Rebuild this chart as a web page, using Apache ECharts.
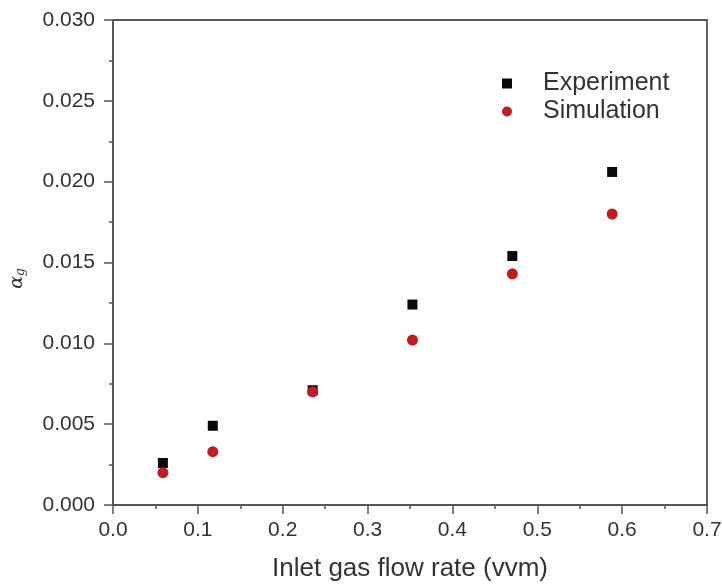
<!DOCTYPE html>
<html>
<head>
<meta charset="utf-8">
<script src="https://cdn.jsdelivr.net/npm/echarts@6/dist/echarts.min.js"></script>
<style>html,body{margin:0;padding:0;background:#fff}#c{width:722px;height:586px}</style>
</head>
<body>
<div id="c"></div>
<script>
var flowRate = [0.0588, 0.1176, 0.2353, 0.3529, 0.4706, 0.5882];
var experiment = [0.0026, 0.0049, 0.0071, 0.0124, 0.0154, 0.0206];
var simulation = [0.0020, 0.0033, 0.0070, 0.0102, 0.0143, 0.0180];
var xTicks = ['0.0','0.1','0.2','0.3','0.4','0.5','0.6','0.7'];

function pairs(xs, ys){ return xs.map(function(x,i){return [x, ys[i]];}); }

var font = 'Liberation Sans, Arial, sans-serif';
var axisCol = '#555';
var textCol = '#333';
var chart = echarts.init(document.getElementById('c'));
chart.setOption({
  animation: false,
  backgroundColor: '#fff',
  grid: {left: 113, right: 15, top: 20, bottom: 81, show: true, borderColor: axisCol, borderWidth: 1.8,
         outerBoundsMode: 'none', containLabel: false},
  legend: {
    orient: 'vertical', left: 497, top: 66,
    itemWidth: 10, itemHeight: 10, itemGap: 3,
    textStyle: {fontFamily: font, fontSize: 25, color: textCol, padding: [0,0,0,26]},
    data: [{name:'Experiment', icon:'rect'}, {name:'Simulation', icon:'circle'}]
  },
  xAxis: {
    type: 'value', min: 0, max: 0.7, interval: 0.1,
    name: 'Inlet gas flow rate (vvm)', nameLocation: 'middle', nameGap: 51,
    nameTextStyle: {fontFamily: font, fontSize: 26, color: textCol},
    axisLine: {show: true, lineStyle: {color: axisCol, width: 1.8}},
    axisTick: {show: true, inside: false, length: 9, lineStyle: {color: axisCol, width: 1.5}},
    minorTick: {show: true, splitNumber: 2, length: 4, lineStyle: {color: axisCol, width: 1.5}},
    splitLine: {show: false},
    axisLabel: {fontFamily: font, fontSize: 21, color: textCol, margin: 15,
      formatter: function(v){ return xTicks[Math.round(v*10)]; }}
  },
  yAxis: {
    type: 'value', min: 0, max: 0.03, interval: 0.005,
    name: '{a|α}{s|g}', nameLocation: 'middle', nameGap: 86, nameRotate: 90,
    nameTextStyle: {padding: [0, 32, 0, 0], rich: {
      a: {fontFamily: 'DejaVu Serif, serif', fontStyle: 'italic', fontSize: 19, color: textCol},
      s: {fontFamily: 'DejaVu Serif, serif', fontStyle: 'italic', fontSize: 12, color: textCol, verticalAlign: 'bottom', padding: [8,0,0,0]}
    }},
    axisLine: {show: true, lineStyle: {color: axisCol, width: 1.8}},
    axisTick: {show: true, inside: false, length: 9, lineStyle: {color: axisCol, width: 1.5}},
    minorTick: {show: true, splitNumber: 2, length: 4, lineStyle: {color: axisCol, width: 1.5}},
    splitLine: {show: false},
    axisLabel: {fontFamily: font, fontSize: 21, color: textCol, margin: 18,
      formatter: function(v){ return v.toFixed(3); }}
  },
  series: [
    {name: 'Experiment', type: 'scatter', symbol: 'rect', symbolSize: 10,
     itemStyle: {color: '#0a0a0a', opacity: 1}, data: pairs(flowRate, experiment), z: 2},
    {name: 'Simulation', type: 'scatter', symbol: 'circle', symbolSize: 11,
     itemStyle: {color: '#c41a22', opacity: 1}, data: pairs(flowRate, simulation), z: 3}
  ]
});
</script>
</body>
</html>
